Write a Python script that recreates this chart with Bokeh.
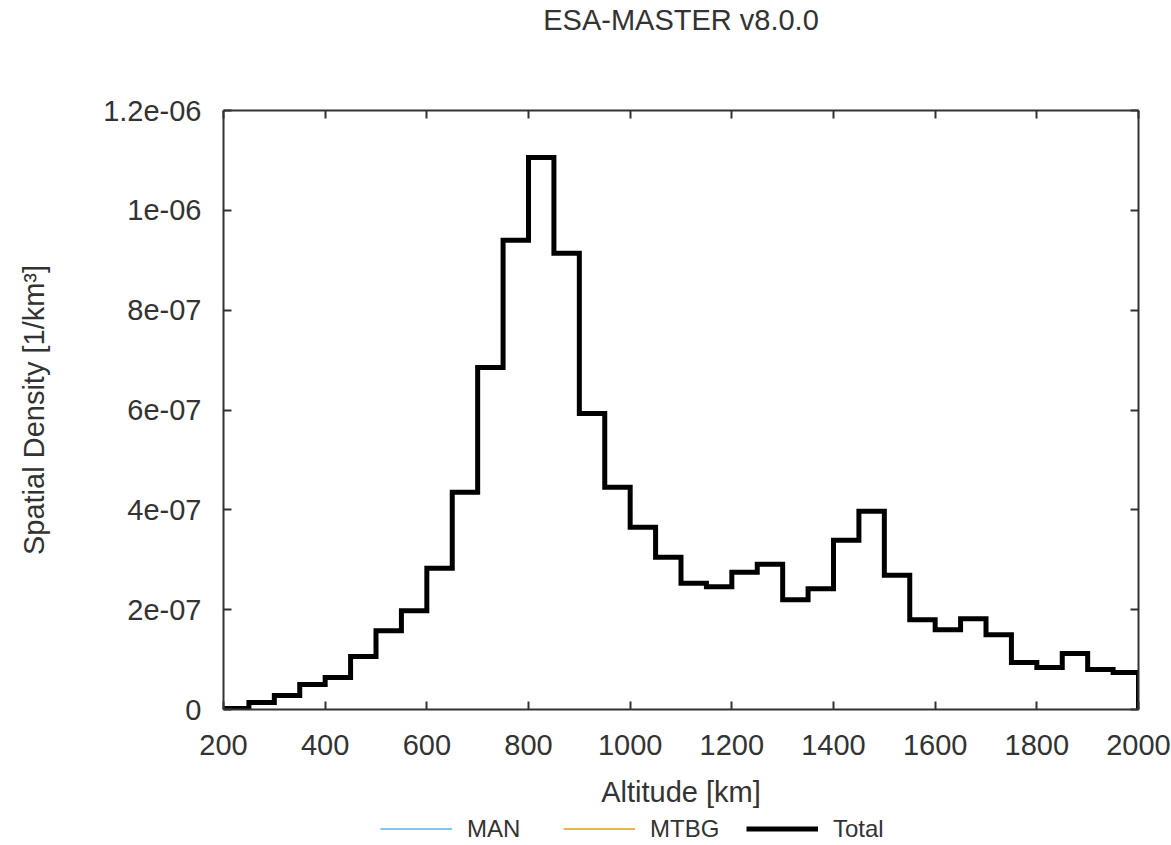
from bokeh.plotting import figure
from bokeh.layouts import column
from bokeh.models import (ColumnDataSource, Range1d, LinearAxis, FixedTicker,
                          Legend, LegendItem)
from bokeh.embed import file_html
from bokeh.resources import INLINE

# ---- data ----
bin_start_km = [200, 250, 300, 350, 400, 450, 500, 550, 600, 650, 700, 750,
                800, 850, 900, 950, 1000, 1050, 1100, 1150, 1200, 1250, 1300, 1350,
                1400, 1450, 1500, 1550, 1600, 1650, 1700, 1750, 1800, 1850, 1900, 1950]
range_end_km = 2000
total_density = [2e-9, 1.4e-8, 2.8e-8, 5.0e-8, 6.4e-8, 1.06e-7, 1.58e-7, 1.98e-7,
                 2.83e-7, 4.35e-7, 6.85e-7, 9.4e-7, 1.106e-6, 9.14e-7, 5.93e-7, 4.45e-7,
                 3.65e-7, 3.05e-7, 2.53e-7, 2.46e-7, 2.75e-7, 2.91e-7, 2.2e-7, 2.42e-7,
                 3.39e-7, 3.97e-7, 2.69e-7, 1.8e-7, 1.6e-7, 1.82e-7, 1.5e-7, 9.4e-8,
                 8.4e-8, 1.12e-7, 8.0e-8, 7.4e-8]
man_alt = []
man_density = []
mtbg_alt = []
mtbg_density = []

x_ticks = [200, 400, 600, 800, 1000, 1200, 1400, 1600, 1800, 2000]
y_ticks = [0.0, 2e-07, 4e-07, 6e-07, 8e-07, 1e-06, 1.2e-06]
y_tick_labels = ["0", "2e-07", "4e-07", "6e-07", "8e-07", "1e-06", "1.2e-06"]

series_names = ["MAN", "MTBG", "Total"]
series_colors = ["#56b4e9", "#e69f00", "#000000"]
series_widths = [1.5, 1.5, 5]
title_text = "ESA-MASTER v8.0.0"

FONT = "Liberation Sans"
TXT = "#333333"
FS = "29px"

p = figure(width=1171, height=812,
           min_border_left=223, min_border_right=33,
           min_border_top=110, min_border_bottom=103,
           x_range=Range1d(200, 2000), y_range=Range1d(0, 1.2e-6),
           output_backend="svg", toolbar_location=None)
p.background_fill_color = "white"
p.border_fill_color = "white"
p.outline_line_color = None
p.grid.visible = False

def style_axis(ax, show_labels, ticks):
    ax.axis_line_color = "#333333"
    ax.axis_line_width = 2
    ax.major_tick_line_color = "#333333"
    ax.major_tick_line_width = 2
    ax.major_tick_in = 8
    ax.major_tick_out = 0
    ax.minor_tick_line_color = None
    ax.major_label_text_font = FONT
    ax.major_label_text_color = TXT
    ax.axis_label_text_font = FONT
    ax.axis_label_text_color = TXT
    ax.axis_label_text_font_style = "normal"
    ax.axis_label_text_font_size = FS
    ax.major_label_text_font_size = FS
    if not show_labels:
        ax.major_label_overrides = {t: "" for t in ticks}
        ax.major_label_standoff = 0

# bottom
xa = p.xaxis[0]
xa.ticker = FixedTicker(ticks=x_ticks)
style_axis(xa, True, x_ticks)
xa.major_label_standoff = 25
xa.axis_label = "Altitude [km]"
xa.axis_label_standoff = 18

# left
ya = p.yaxis[0]
ya.ticker = FixedTicker(ticks=y_ticks)
ya.major_label_overrides = dict(zip(y_ticks, y_tick_labels))
style_axis(ya, True, y_ticks)
ya.major_label_standoff = 22
ya.axis_label = "Spatial Density [1/km³]"
ya.axis_label_standoff = 50

# top (carries the chart title) & right: frame with inward ticks
ta = LinearAxis(ticker=FixedTicker(ticks=x_ticks), axis_label=title_text)
style_axis(ta, False, x_ticks)
ta.axis_label_standoff = 75
p.add_layout(ta, "above")
ra = LinearAxis(ticker=FixedTicker(ticks=y_ticks))
style_axis(ra, False, y_ticks)
p.add_layout(ra, "right")

# series
src_total = ColumnDataSource(dict(x=bin_start_km + [range_end_km],
                                  y=total_density + [0.0]))
p.line(man_alt, man_density, line_color=series_colors[0], line_width=series_widths[0])
p.line(mtbg_alt, mtbg_density, line_color=series_colors[1], line_width=series_widths[1])
p.step("x", "y", source=src_total, mode="after",
       line_color=series_colors[2], line_width=series_widths[2], line_join="miter")

# legend strip below the chart (swatch proxies hold no visible points)
lg = figure(width=1171, height=33, min_border=0, x_range=Range1d(0, 1),
            y_range=Range1d(0, 1), x_axis_location=None, y_axis_location=None,
            output_backend="svg", toolbar_location=None)
lg.outline_line_color = None
lg.grid.visible = False
lg.background_fill_color = "white"
lg.border_fill_color = "white"
items = []
for name, col, w in zip(series_names, series_colors, series_widths):
    proxy = ColumnDataSource(dict(x=[float("nan")], y=[float("nan")]))
    r = lg.line("x", "y", source=proxy, line_color=col, line_width=w)
    items.append(LegendItem(label=name, renderers=[r]))
legend = Legend(items=items, orientation="horizontal", location=(157, 0))
legend.border_line_color = None
legend.background_fill_alpha = 0
legend.padding = 0
legend.margin = 0
legend.glyph_width = 72
legend.glyph_height = 33
legend.label_standoff = 15
legend.label_width = 70
legend.spacing = 26
legend.label_text_font = FONT
legend.label_text_font_size = "24px"
legend.label_text_color = TXT
lg.add_layout(legend, "center")

layout = column(p, lg, spacing=0)
open("out.html", "w").write(file_html(layout, INLINE))
